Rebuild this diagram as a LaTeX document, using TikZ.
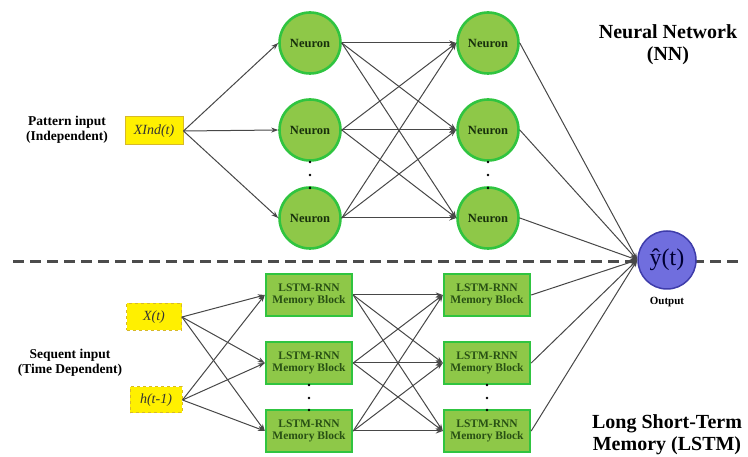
\documentclass[tikz,border=0pt]{standalone}
\usepackage{fontspec}
\setmainfont{Liberation Serif}
\usetikzlibrary{arrows.meta}
\definecolor{leaf}{RGB}{142,200,72}
\definecolor{rim}{RGB}{48,196,64}
\definecolor{darkleaf}{RGB}{40,80,20}
\definecolor{gold}{RGB}{255,240,0}
\definecolor{goldrim}{RGB}{215,185,40}
\definecolor{outfill}{RGB}{112,110,222}
\definecolor{outrim}{RGB}{62,60,170}
\begin{document}
\begin{tikzpicture}[x=1pt, y=-1pt,
    every node/.append style = {font=\bfseries},
    neuron/.style = {circle, draw=rim, line width=2.6pt, fill=leaf,
      minimum size=61pt, inner sep=0pt, text=darkleaf!60!black,
      font=\bfseries\fontsize{12.5}{13}\selectfont},
    memblock/.style = {rectangle, draw=rim, line width=2.4pt, fill=leaf,
      minimum width=86pt, minimum height=42pt, inner sep=0pt, align=center,
      text=darkleaf, font=\bfseries\fontsize{11.5}{12.5}\selectfont},
    inbox/.style = {rectangle, fill=gold, draw=goldrim, line width=1pt,
      minimum height=28pt, inner sep=3pt, text=black!80,
      font=\itshape\fontsize{14}{15}\selectfont},
    link/.style = {draw=black!72, line width=1pt,
      -{Stealth[length=7pt, width=5pt]}},
    caption/.style = {align=center, font=\bfseries\fontsize{13.5}{15}\selectfont},
    title/.style = {align=center, font=\bfseries\fontsize{20}{22}\selectfont}
  ]
  \useasboundingbox (0,0) rectangle (748,457);
  % divider between the two parts
  \draw[black!70, line width=3pt, dash pattern=on 11pt off 6pt]
    (13,262) -- (738,262);
  % neural network part
  \node[inbox, minimum width=58pt] (xind) at (154,131) {XInd(t)};
  \node[caption] (pattern) at (67,130) {Pattern input\\(Independent)};
  \foreach \c/\x in {1/310, 2/488} {
    \foreach \r/\y in {1/43, 2/130, 3/218} {
      \node[neuron] (n\c\r) at (\x,\y) {Neuron};
    }
    \foreach \y in {162,175,188} {
      \fill (\x,\y) circle (1.3pt);
    }
  }
  \node[title] (nntitle) at (668,45) {Neural Network\\(NN)};
  % lstm part
  \node[inbox, dashed, minimum width=55pt, minimum height=27pt] (xt) at (154,317) {X(t)};
  \node[inbox, dashed, minimum width=52pt, minimum height=26pt] (ht) at (156,400) {h(t-1)};
  \node[caption] (sequent) at (70,363) {Sequent input\\(Time Dependent)};
  \foreach \c/\x in {1/309, 2/487} {
    \foreach \r/\y in {1/295, 2/363, 3/431} {
      \node[memblock] (m\c\r) at (\x,\y) {LSTM-RNN\\Memory Block};
    }
    \foreach \y in {385,398,410} {
      \fill (\x,\y) circle (1.3pt);
    }
  }
  \node[title] (lstmtitle) at (667,435) {Long Short-Term\\Memory (LSTM)};
  % output
  \node[circle, draw=outrim, line width=1.5pt, fill=outfill, minimum size=58pt,
    inner sep=0pt, font=\fontsize{24}{26}\selectfont, text=black!80!blue]
    (out) at (667,260) {ŷ(t)};
  \node[font=\bfseries\fontsize{11}{12}\selectfont] (outlbl) at (667,302) {Output};
  % connectors
  \foreach \r in {1,2,3} {
    \draw[link] (xind.east) -- (n1\r.west);
    \draw[link] (xt.east) -- (m1\r.west);
    \draw[link] (ht.east) -- (m1\r.west);
    \foreach \s in {1,2,3} {
      \draw[link] (n1\r.east) -- (n2\s.west);
      \draw[link] (m1\r.east) -- (m2\s.west);
    }
    \draw[link] (n2\r.east) -- (out.west);
    \draw[link] (m2\r.east) -- (out.west);
  }
\end{tikzpicture}
\end{document}
